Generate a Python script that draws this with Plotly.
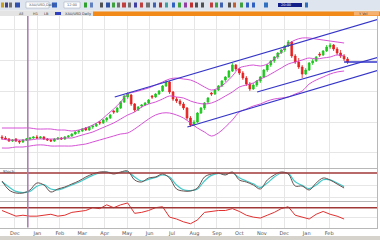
import plotly.graph_objects as go

W, H = 380, 240

# ---------------- data ----------------
opens = [31,30,29,27,29,27,26,28,29,30, 31,30,31,29,28,27,29,30,29,31,
         32,34,36,37,40,38,41,42,46,45, 48,50,57,56,60,66,71,73,64,58,
         62,63,65,72,71,74,77,82,86,76, 69,67,64,60,50,43,46,55,60,66,
         75,74,78,82,88,91,97,103,99,95, 90,84,79,83,87,91,98,103,107,111,
         115,118,122,126,112,106,101,94,98,105, 107,114,113,117,121,123,119,115,112,109]
highs = [33,32,30,29,30,28,29,30,31,32, 33,32,32,30,29,30,31,31,32,33,
         35,37,38,40,41,42,43,45,47,49, 51,54,58,61,67,73,76,74,65,62,
         64,66,69,73,75,78,83,88,87,77, 71,69,66,61,52,48,56,61,66,71,
         76,79,83,88,92,98,105,104,100,97, 92,86,85,88,92,99,104,108,112,116,
         119,123,128,127,114,110,103,100,106,109, 112,116,118,123,125,124,121,118,114,111]
lows = [28,28,26,26,26,24,25,27,28,29, 29,29,28,27,26,26,28,28,28,30,
        31,33,34,36,37,37,39,41,43,44, 46,49,54,55,59,65,69,62,56,57,
        60,62,64,69,70,73,76,81,74,67, 65,62,58,48,41,42,45,54,58,64,
        72,73,77,81,86,90,96,97,93,88, 82,77,78,81,85,90,96,101,105,109,
        114,116,121,110,104,99,90,93,97,103, 106,111,112,116,119,117,113,110,107,104]
closes = [30,29,27,28,27,26,28,29,30,31, 30,31,29,28,27,29,30,29,31,32,
          34,36,37,39,38,41,42,44,45,48, 50,53,56,60,66,72,74,64,58,61,
          63,65,68,71,74,77,82,86,76,69, 67,64,60,50,43,46,55,60,65,70,
          74,78,82,87,91,97,103,99,95,90, 84,79,83,87,91,98,103,107,111,115,
          118,122,126,112,106,101,94,98,105,107, 111,113,117,121,123,119,115,112,109,106]
candle_idx = list(range(len(closes)))

# indicator samples, every second bar
osc_idx = list(range(0, 100, 2))
bb_upper = [40,40,40,40,40,39,39,39,38,38, 37,38,40,43,47,53,59,66,74,76,
            78,80,83,86,89,90,89,88,85,81, 78,80,85,92,100,102,103,102,104,109,
            116,124,128,130,130,129,128,127,126,125]
bb_mid = [29,28,28,28,28,29,29,29,29,30, 30,32,34,36,39,42,45,49,53,56,
          61,64,66,69,72,71,70,67,65,64, 65,68,72,76,81,83,85,89,92,96,
          100,104,106,108,110,109,110,111,113,112]
bb_lower = [20,20,21,21,22,23,23,22,22,22, 22,23,24,26,28,30,32,34,35,39,
            44,49,53,55,55,53,50,45,40,36, 32,35,41,48,56,59,62,64,67,69,
            70,71,74,77,84,88,91,94,96,97]
stoch_k = [60,37.5,30,30,37.5,55,50,32.5,40,45, 52.5,60,70,77.5,82.5,82.5,77.5,82.5,85,62.5,
           57.5,67.5,70,77.5,67.5,40,35,35,42.5,70, 77.5,80,75,82.5,62.5,57.5,50,40,62.5,75,
           82.5,77.5,47.5,47.5,37.5,55,67.5,62.5,52.5,42.5]
stoch_d = [58,45,34,31,34,47,51,40,38,43, 50,57,66,74,80,82,80,81,83,70,
           60,64,69,75,70,50,38,36,40,60, 74,79,77,80,68,60,53,44,55,70,
           80,79,58,49,41,50,63,63,55,46]
rsi = [64,58,52,54,52,52,54,56,52,54, 60,62,64,70,68,76,70,76,80,58,
       60,64,70,72,50,46,40,36,44,60, 62,64,64,68,62,54,50,48,54,60,
       68,72,54,50,46,56,62,56,52,46]

# trend lines: (bar index, price) end points
trend_lines = [
    ([32.3, 108.0], [71, 149]),
    ([53.1, 108.0], [41, 98]),
    ([73.1, 108.0], [76, 111]),
    ([98.0, 108.0], [106, 106]),
]
marker_bar = 7.4
tick_vals = [3.7,10.13,16.56,22.99,29.42,35.85,42.28,48.71,55.14,61.57,68.0,74.43,80.86,87.29,93.72]
tick_text = ["Dec","Jan","Feb","Mar","Apr","May","Jun","Jul","Aug","Sep","Oct","Nov","Dec","Jan","Feb"]

# ---------------- figure ----------------
def py(y):
    return 1 - y / H

def pxx(x):
    return x / W

fig = go.Figure()
fig.add_trace(go.Candlestick(
    x=candle_idx, open=opens, high=highs, low=lows, close=closes,
    increasing=dict(line=dict(color="#1ec81e", width=0.8), fillcolor="#1ec81e"),
    decreasing=dict(line=dict(color="#e62020", width=0.8), fillcolor="#e62020"),
    whiskerwidth=0, xaxis="x", yaxis="y", hoverinfo="skip"))

for arr in (bb_upper, bb_mid, bb_lower):
    fig.add_trace(go.Scatter(x=osc_idx, y=arr, mode="lines",
                             line=dict(color="#d040d0", width=0.9, shape="spline"),
                             xaxis="x", yaxis="y", hoverinfo="skip"))
for xs, ys in trend_lines:
    fig.add_trace(go.Scatter(x=xs, y=ys, mode="lines",
                             line=dict(color="#3535c8", width=1.3),
                             xaxis="x", yaxis="y", hoverinfo="skip"))

fig.add_trace(go.Scatter(x=osc_idx, y=stoch_d, mode="lines",
                         line=dict(color="#45c8c8", width=1.2, shape="spline"),
                         xaxis="x2", yaxis="y2", hoverinfo="skip"))
fig.add_trace(go.Scatter(x=osc_idx, y=stoch_k, mode="lines",
                         line=dict(color="#6a5050", width=1, shape="spline"),
                         xaxis="x2", yaxis="y2", hoverinfo="skip"))
fig.add_trace(go.Scatter(x=osc_idx, y=rsi, mode="lines",
                         line=dict(color="#e03030", width=1),
                         xaxis="x3", yaxis="y3", hoverinfo="skip"))

xr = [-0.571, 107.43]
xdom = [0, 377 / W]
common_x = dict(range=xr, domain=xdom, tickvals=tick_vals, showgrid=True,
                gridcolor="#e6e6e6", zeroline=False, showline=True,
                linecolor="#b8b8b8", mirror=True, ticks="", fixedrange=True)
common_y = dict(showgrid=True, gridcolor="#e6e6e6", zeroline=False, showline=True,
                linecolor="#b8b8b8", mirror=True, showticklabels=False, ticks="",
                fixedrange=True)

fig.update_layout(
    width=W, height=H, margin=dict(l=0, r=0, t=0, b=0),
    paper_bgcolor="#ffffff", plot_bgcolor="#ffffff", showlegend=False,
    xaxis=dict(**common_x, anchor="y", showticklabels=False, rangeslider=dict(visible=False)),
    yaxis=dict(**common_y, domain=[py(168), py(16)], range=[0, 152],
               tickvals=[16, 46, 77, 108, 139], anchor="x"),
    xaxis2=dict(**common_x, anchor="y2", showticklabels=False),
    yaxis2=dict(**common_y, domain=[py(201), py(169)], range=[10, 90],
                tickvals=[20, 50], anchor="x2"),
    xaxis3=dict(**common_x, anchor="y3", showticklabels=True, ticktext=tick_text,
                tickfont=dict(family="DejaVu Sans", size=5, color="#505050")),
    yaxis3=dict(**common_y, domain=[py(227.5), py(202)], range=[28, 82],
                tickvals=[50], anchor="x3"),
)

shapes = []
# level lines
shapes.append(dict(type="line", xref="x2", yref="y2", x0=xr[0], x1=xr[1], y0=80, y1=80,
                   line=dict(color="#a03838", width=1.5)))
shapes.append(dict(type="line", xref="x3", yref="y3", x0=xr[0], x1=xr[1], y0=70, y1=70,
                   line=dict(color="#a03838", width=1.5)))
# vertical marker line
shapes.append(dict(type="line", xref="x", yref="paper", x0=marker_bar, x1=marker_bar,
                   y0=py(227.5), y1=py(16), line=dict(color="#a878b0", width=1.5)))

# window chrome: toolbar, tab strip, status bar
shapes.append(dict(type="rect", xref="paper", yref="paper", x0=0, x1=1, y0=py(10.5), y1=1,
                   fillcolor="#dfe5ee", line=dict(width=0), layer="above"))
shapes.append(dict(type="rect", xref="paper", yref="paper", x0=0, x1=1, y0=py(16), y1=py(10.5),
                   fillcolor="#e4e4e4", line=dict(width=0), layer="above"))
shapes.append(dict(type="rect", xref="paper", yref="paper", x0=pxx(93), x1=1, y0=py(16), y1=py(11.5),
                   fillcolor="#f28a1a", line=dict(width=0), layer="above"))
shapes.append(dict(type="rect", xref="paper", yref="paper", x0=pxx(354), x1=pxx(379), y0=py(15.5), y1=py(12),
                   fillcolor="#f6b070", line=dict(width=0), layer="above"))
shapes.append(dict(type="rect", xref="paper", yref="paper", x0=0, x1=1, y0=0, y1=py(236),
                   fillcolor="#d6d3cc", line=dict(width=0), layer="above"))
icons = [(1,4,"#c8a020"),(5,8,"#404080"),(9,12,"#707070"),(15,20,"#3050b0"),
         (52,57,"#3060c0"),(84,87,"#30a030"),(90,93,"#6080c0"),(100,103,"#505050"),
         (106,110,"#3050a0"),(112,115,"#40a040"),(117,120,"#707070"),(122,126,"#c04040"),
         (128,131,"#707070"),(134,137,"#4040a0"),(140,143,"#c04040"),(146,150,"#707070"),
         (153,156,"#4060b0"),(159,162,"#b03030"),(165,168,"#40a0a0"),(172,175,"#3060c0"),
         (178,181,"#40a040"),(184,187,"#9040a0"),(190,193,"#c03030"),(195,198,"#505050"),
         (201,204,"#505050"),(210,213,"#c04040"),(215,218,"#40a040"),(220,223,"#4060b0"),
         (228,231,"#505050"),(233,236,"#c06030"),(240,243,"#40a040"),(246,249,"#3060c0"),
         (252,255,"#3060c0"),(264,268,"#3070c0"),(305,308,"#3070c0")]
for x0, x1, c in icons:
    shapes.append(dict(type="rect", xref="paper", yref="paper", x0=pxx(x0), x1=pxx(x1),
                       y0=py(7.5), y1=py(2.5), fillcolor=c, line=dict(width=0), layer="above"))
for x0, x1 in [(26, 49), (64, 80)]:
    shapes.append(dict(type="rect", xref="paper", yref="paper", x0=pxx(x0), x1=pxx(x1),
                       y0=py(8), y1=py(2), fillcolor="#ffffff",
                       line=dict(color="#9aa4b4", width=0.5), layer="above"))
shapes.append(dict(type="rect", xref="paper", yref="paper", x0=pxx(278), x1=pxx(302),
                   y0=py(7), y1=py(3), fillcolor="#14208a", line=dict(width=0), layer="above"))
shapes.append(dict(type="rect", xref="paper", yref="paper", x0=pxx(55), x1=pxx(61),
                   y0=py(15), y1=py(12), fillcolor="#3040c0", line=dict(width=0), layer="above"))
fig.update_layout(shapes=shapes)

ann = [
    (27, 5, "XAU/USD,Daily", "#555", 3.5),
    (65, 5, "12:00", "#555", 3.5),
    (279, 5, "20:00", "#ffffff", 3.5),
    (17, 13.7, "All", "#333", 3.5),
    (31, 13.7, "H1", "#333", 3.5),
    (42, 13.7, "LB", "#333", 3.5),
    (63, 13.7, "XAU/USD Daily", "#333", 3.5),
    (357, 13.7, "Y Vol", "#444", 3.5),
    (1, 171, "Stoch", "#444", 4),
]
for x, y, t, c, s in ann:
    fig.add_annotation(x=pxx(x), y=py(y), xref="paper", yref="paper", text=t,
                       showarrow=False, xanchor="left", yanchor="middle",
                       font=dict(family="DejaVu Sans", size=s, color=c))

fig.write_html("out.html")
